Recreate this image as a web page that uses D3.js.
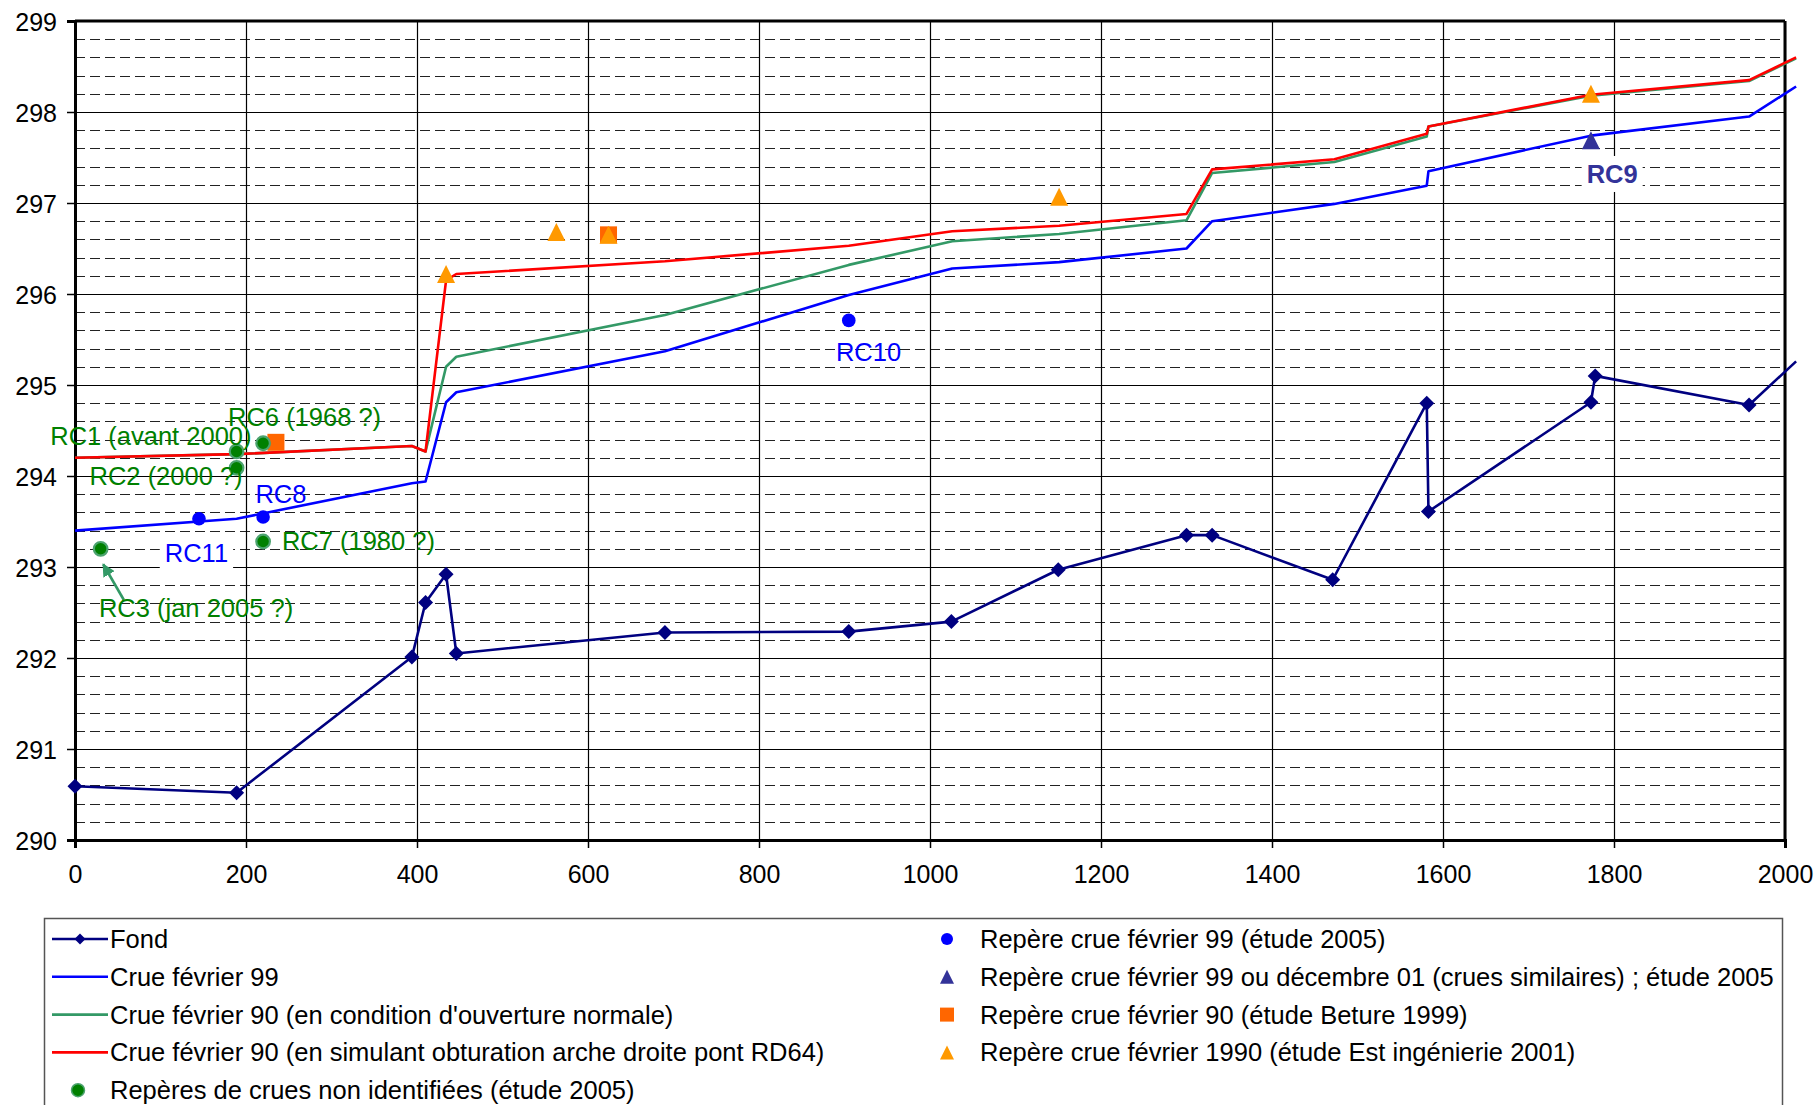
<!DOCTYPE html>
<html>
<head>
<meta charset="utf-8">
<script src="https://cdn.jsdelivr.net/npm/d3@7"></script>
<style>
  body { margin: 0; background: #fff; }
  svg { display: block; font-family: "Liberation Sans", Arial, sans-serif; }
</style>
</head>
<body>
<div id="chart"></div>
<script>

// Profil en long : abscisses (m) et cotes (m NGF)
var fondX = [0, 189, 394, 410, 434, 446, 690, 905, 1025, 1150, 1300, 1330, 1471, 1581, 1583, 1773, 1778, 1958, 2013];
var fondY = [290.59, 290.52, 292.01, 292.61, 292.92, 292.05, 292.28, 292.29, 292.40, 292.97, 293.35, 293.35, 292.86, 294.80, 293.61, 294.81, 295.10, 294.78, 295.26];

var crue99X = [0, 189, 394, 410, 434, 446, 690, 905, 1026, 1151, 1300, 1330, 1473, 1581, 1583, 1773, 1958, 2013];
var crue99Y = [293.40, 293.53, 293.92, 293.94, 294.81, 294.92, 295.37, 295.99, 296.28, 296.35, 296.50, 296.80, 296.99, 297.19, 297.35, 297.74, 297.95, 298.28];

var crue90X = [0, 189, 394, 410, 434, 446, 690, 905, 1026, 1151, 1300, 1330, 1473, 1581, 1583, 1773, 1958, 2013];
var crue90NormY = [294.20, 294.24, 294.33, 294.27, 295.20, 295.31, 295.77, 296.32, 296.58, 296.66, 296.81, 297.33, 297.45, 297.73, 297.84, 298.18, 298.34, 298.59];
var crue90ObtY = [294.20, 294.24, 294.33, 294.27, 296.15, 296.22, 296.36, 296.53, 296.69, 296.75, 296.88, 297.37, 297.48, 297.76, 297.84, 298.19, 298.35, 298.60];

// Repères de crues
var repere99 = [[145, 293.53], [220, 293.55], [905, 295.71]];
var repere99ou01 = [[1773, 297.69]];
var repereBeture = [[235, 294.37], [624, 296.65]];
var repereEst = [[434, 296.22], [563, 296.68], [624, 296.65], [1151, 297.07], [1773, 298.20]];
var repereNonId = [[189, 294.27], [189, 294.09], [220, 294.36], [220, 293.28], [30, 293.20]];

// Étiquettes (point d'ancrage en coordonnées du graphique)
var labelsVert = [
  ['RC1 (avant 2000)', -29, 294.34],
  ['RC6 (1968 ?)', 179, 294.55],
  ['RC2 (2000 ?)', 17, 293.90],
  ['RC7 (1980 ?)', 242, 293.19],
  ['RC3 (jan 2005 ?)', 28, 292.45]
];
var labelsBleu = [
  ['RC8', 211, 293.70],
  ['RC11', 105, 293.05],
  ['RC10', 890, 295.26]
];

var xTicks = [0, 200, 400, 600, 800, 1000, 1200, 1400, 1600, 1800, 2000];
var yTicks = [290, 291, 292, 293, 294, 295, 296, 297, 298, 299];

var colors = {
  fond: '#000080',
  c99: '#0000ff',
  c90n: '#339966',
  c90o: '#ff0000',
  navy: '#333399',
  sq: '#ff6600',
  tri: '#ff9900',
  vert: '#008000'
};

var W = 1816, H = 1105;
var margin = { top: 21, right: 31, bottom: 265, left: 75 };
var width = W - margin.left - margin.right;
var height = H - margin.top - margin.bottom;

var svg = d3.select('#chart')
  .append('svg')
    .attr('width', W)
    .attr('height', H);

var g = svg.append('g')
    .attr('transform', 'translate(' + margin.left + ',' + margin.top + ')');

var x = d3.scaleLinear().domain([0, 2000]).range([0, width]);
var y = d3.scaleLinear().domain([290, 299]).range([height, 0]);

// grille secondaire en tirets
var minor = d3.range(290.2, 299, 0.2).filter(function (v) {
  return Math.abs(v - Math.round(v)) > 0.05;
});
g.selectAll('.minor')
    .data(minor)
    .enter()
  .append('line')
    .attr('x1', 0).attr('x2', width)
    .attr('y1', function (d) { return Math.round(y(d)) + 0.5; })
    .attr('y2', function (d) { return Math.round(y(d)) + 0.5; })
    .attr('stroke', '#222')
    .attr('stroke-width', 1.2)
    .attr('stroke-dasharray', '10,5');

g.selectAll('.hmajor')
    .data(yTicks)
    .enter()
  .append('line')
    .attr('x1', 0).attr('x2', width)
    .attr('y1', function (d) { return Math.round(y(d)) + 0.5; })
    .attr('y2', function (d) { return Math.round(y(d)) + 0.5; })
    .attr('stroke', '#000')
    .attr('stroke-width', 1.2);

g.selectAll('.vmajor')
    .data(xTicks)
    .enter()
  .append('line')
    .attr('x1', function (d) { return Math.round(x(d)) + 0.5; })
    .attr('x2', function (d) { return Math.round(x(d)) + 0.5; })
    .attr('y1', 0).attr('y2', height)
    .attr('stroke', '#000')
    .attr('stroke-width', 1.2);

// cadre
g.append('line').attr('x1', 0).attr('x2', width).attr('y1', 0).attr('y2', 0)
    .attr('stroke', '#000').attr('stroke-width', 3);
g.append('line').attr('x1', width).attr('x2', width).attr('y1', 0).attr('y2', height)
    .attr('stroke', '#000').attr('stroke-width', 3);

// axes
var xAxis = g.append('g')
    .attr('transform', 'translate(0,' + height + ')')
    .call(d3.axisBottom(x).tickValues(xTicks).tickSize(8).tickPadding(12).tickFormat(d3.format('d')));
var yAxis = g.append('g')
    .call(d3.axisLeft(y).tickValues(yTicks).tickSize(8).tickPadding(10).tickFormat(d3.format('d')));

[xAxis, yAxis].forEach(function (a) {
  a.select('.domain').attr('stroke', '#000').attr('stroke-width', 3);
  a.selectAll('.tick line').attr('stroke', '#000').attr('stroke-width', 1.5);
  a.selectAll('.tick text')
      .attr('fill', '#000')
      .style('font-size', '25px')
      .style('font-family', '"Liberation Sans", Arial, sans-serif');
});
xAxis.selectAll('.tick text').attr('dy', '0.9em');
yAxis.selectAll('.tick text').attr('x', -18).attr('dy', '0.36em');

// courbes
function zipXY(xs, ys) {
  return xs.map(function (v, i) { return [v, ys[i]]; });
}

var line = d3.line()
    .x(function (d) { return x(d[0]); })
    .y(function (d) { return y(d[1]); });

var series = [
  { pts: zipXY(fondX, fondY), color: colors.fond, w: 2.6 },
  { pts: zipXY(crue99X, crue99Y), color: colors.c99, w: 2.6 },
  { pts: zipXY(crue90X, crue90NormY), color: colors.c90n, w: 2.6 },
  { pts: zipXY(crue90X, crue90ObtY), color: colors.c90o, w: 2.6 }
];

g.selectAll('.serie')
    .data(series)
    .enter()
  .append('path')
    .attr('fill', 'none')
    .attr('stroke', function (d) { return d.color; })
    .attr('stroke-width', function (d) { return d.w; })
    .attr('stroke-linejoin', 'round')
    .attr('d', function (d) { return line(d.pts); });

// losanges du fond
function diamond(s) {
  return 'M0,' + (-s) + 'L' + s + ',0L0,' + s + 'L' + (-s) + ',0Z';
}
function triangle(s) {
  return 'M0,' + (-s) + 'L' + s + ',' + s + 'L' + (-s) + ',' + s + 'Z';
}

g.selectAll('.diam')
    .data(zipXY(fondX, fondY).filter(function (d) { return d[0] <= 2000; }))
    .enter()
  .append('path')
    .attr('transform', function (d) { return 'translate(' + x(d[0]) + ',' + y(d[1]) + ')'; })
    .attr('d', diamond(7.5))
    .attr('fill', colors.fond);

// repères
g.selectAll('.sq')
    .data(repereBeture)
    .enter()
  .append('rect')
    .attr('x', function (d) { return x(d[0]) - 8.5; })
    .attr('y', function (d) { return y(d[1]) - 8.5; })
    .attr('width', 17)
    .attr('height', 17)
    .attr('fill', colors.sq);

g.selectAll('.triEst')
    .data(repereEst)
    .enter()
  .append('path')
    .attr('transform', function (d) { return 'translate(' + x(d[0]) + ',' + y(d[1]) + ')'; })
    .attr('d', triangle(9))
    .attr('fill', colors.tri);

g.selectAll('.triNavy')
    .data(repere99ou01)
    .enter()
  .append('path')
    .attr('transform', function (d) { return 'translate(' + x(d[0]) + ',' + y(d[1]) + ')'; })
    .attr('d', triangle(9))
    .attr('fill', colors.navy);

g.selectAll('.dot99')
    .data(repere99)
    .enter()
  .append('circle')
    .attr('cx', function (d) { return x(d[0]); })
    .attr('cy', function (d) { return y(d[1]); })
    .attr('r', 6.8)
    .attr('fill', colors.c99);

g.selectAll('.dotVert')
    .data(repereNonId)
    .enter()
  .append('circle')
    .attr('cx', function (d) { return x(d[0]); })
    .attr('cy', function (d) { return y(d[1]); })
    .attr('r', 6.8)
    .attr('fill', colors.vert)
    .attr('stroke', '#4ca36f')
    .attr('stroke-width', 2.2);

// flèche RC3
svg.append('defs').append('marker')
    .attr('id', 'fleche')
    .attr('viewBox', '0 0 10 10')
    .attr('refX', 9).attr('refY', 5)
    .attr('markerWidth', 5).attr('markerHeight', 5)
    .attr('orient', 'auto')
  .append('path')
    .attr('d', 'M0,0L10,5L0,10Z')
    .attr('fill', colors.c90n);

g.append('line')
    .attr('x1', x(57)).attr('y1', y(292.64))
    .attr('x2', x(33)).attr('y2', y(293.03))
    .attr('stroke', colors.c90n)
    .attr('stroke-width', 2.6)
    .attr('marker-end', 'url(#fleche)');

// étiquettes
function label(d, color, bg, bold) {
  var t = g.append('text')
      .attr('x', x(d[1]))
      .attr('y', y(d[2]))
      .attr('fill', color)
      .style('font-size', '25.5px')
      .style('font-weight', bold ? 'bold' : 'normal')
      .text(d[0]);
  if (bg) {
    var b = t.node().getBBox();
    g.insert('rect', function () { return t.node(); })
        .attr('x', b.x - 5).attr('y', b.y - 4)
        .attr('width', b.width + 10).attr('height', b.height + 8)
        .attr('fill', '#fff');
  }
}

labelsVert.forEach(function (d) { label(d, colors.vert, false, false); });
labelsBleu.forEach(function (d) { label(d, colors.c99, d[0] === 'RC11', false); });
label(['RC9', 1768, 297.22], colors.navy, true, true);

// légende
var leg = svg.append('g');
leg.append('rect')
    .attr('x', 44.5).attr('y', 918.5)
    .attr('width', 1738).attr('height', 300)
    .attr('fill', '#fff')
    .attr('stroke', '#555')
    .attr('stroke-width', 1.5);

var legLeft = [
  { text: 'Fond', kind: 'lineDiamond', color: colors.fond },
  { text: 'Crue février 99', kind: 'line', color: colors.c99 },
  { text: "Crue février 90 (en condition d'ouverture normale)", kind: 'line', color: colors.c90n },
  { text: 'Crue février 90 (en simulant obturation arche droite pont RD64)', kind: 'line', color: colors.c90o },
  { text: 'Repères de crues non identifiées (étude 2005)', kind: 'dotVert', color: colors.vert }
];
var legRight = [
  { text: 'Repère crue février 99 (étude 2005)', kind: 'dot', color: colors.c99 },
  { text: 'Repère crue février 99 ou décembre 01 (crues similaires) ; étude 2005', kind: 'tri', color: colors.navy },
  { text: 'Repère crue février 90 (étude Beture 1999)', kind: 'sq', color: colors.sq },
  { text: 'Repère crue février 1990 (étude Est ingénierie 2001)', kind: 'tri', color: colors.tri }
];

function legendRows(items, symX, textX) {
  items.forEach(function (d, i) {
    var cy = 939 + i * 37.8;
    var row = leg.append('g').attr('transform', 'translate(0,' + cy + ')');
    if (d.kind === 'line' || d.kind === 'lineDiamond') {
      row.append('line')
          .attr('x1', symX).attr('x2', symX + 56)
          .attr('stroke', d.color).attr('stroke-width', 2.6);
      if (d.kind === 'lineDiamond') {
        row.append('path')
            .attr('transform', 'translate(' + (symX + 28) + ',0)')
            .attr('d', diamond(5.5))
            .attr('fill', d.color);
      }
    } else if (d.kind === 'dotVert') {
      row.append('circle').attr('cx', symX + 26).attr('r', 6.5).attr('fill', d.color)
          .attr('stroke', '#4ca36f').attr('stroke-width', 1.5);
    } else if (d.kind === 'dot') {
      row.append('circle').attr('cx', symX).attr('r', 6).attr('fill', d.color);
    } else if (d.kind === 'tri') {
      row.append('path').attr('transform', 'translate(' + symX + ',0)')
          .attr('d', triangle(7)).attr('fill', d.color);
    } else if (d.kind === 'sq') {
      row.append('rect').attr('x', symX - 7).attr('y', -7)
          .attr('width', 14).attr('height', 14).attr('fill', d.color);
    }
    row.append('text')
        .attr('x', textX)
        .attr('dy', '0.35em')
        .attr('fill', '#000')
        .style('font-size', '25.5px')
        .text(d.text);
  });
}

legendRows(legLeft, 52, 110);
legendRows(legRight, 947, 980);

</script>
</body>
</html>
